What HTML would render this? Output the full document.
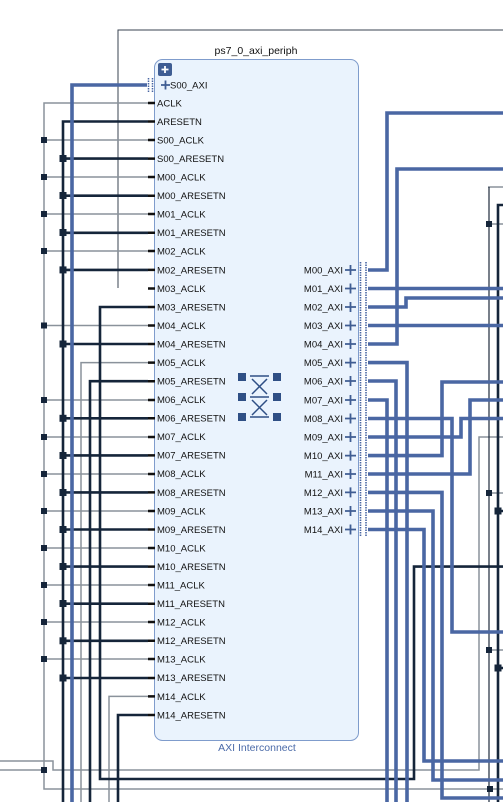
<!DOCTYPE html>
<html><head><meta charset="utf-8"><style>
html,body{margin:0;padding:0;background:#fff;width:503px;height:802px;overflow:hidden}
svg{display:block}
text{font-family:"Liberation Sans",Arial,sans-serif;font-size:9.5px;fill:#111}
.r{text-anchor:end}
</style></head><body>
<svg width="503" height="802" viewBox="0 0 503 802" xmlns="http://www.w3.org/2000/svg">
<g fill="none" stroke-linejoin="miter">
<path d="M503 30 H118 V288" stroke="#3a4350" stroke-width="1"/>
<path d="M148 103 H44 V789 H490" stroke="#8a929b" stroke-width="1.5"/>
<g stroke="#8a929b" stroke-width="1.5">
<path d="M44 140H148M44 177H148M44 214H148M44 251H148M44 325.5H148M44 400H148M44 437H148M44 474H148M44 511H148M44 548H148M44 585H148M44 622H148M44 659H148"/>
<path d="M148 362.6H81V802"/>
<path d="M148 696.4H109V802"/>
<path d="M0 761H53V770H479V437H503"/>
<path d="M0 770H44"/>
<path d="M490 789H503"/>
<path d="M488 187H503M489 224H503M489 493H503M489 650H503"/>
</g>
<path d="M489 187V802" stroke="#1e2b3c" stroke-width="1.2"/>
<g stroke="#15253a" stroke-width="2.6">
<path d="M148 121.5H63V802"/>
<path d="M63 158.6H148M63 195.7H148M63 232.8H148M63 269.9H148M63 344H148M63 418.3H148M63 455.4H148M63 492.4H148M63 529.5H148M63 566.6H148M63 603.7H148M63 640.8H148M63 678H148"/>
<path d="M148 307H100V779H414V566.6H503"/>
<path d="M148 381.2H90V802"/>
<path d="M148 715H118V802"/>
<path d="M503 205H498V802"/>
<path d="M498 511H503M498 668H503"/>
</g>
<g stroke="#4a67a3" stroke-width="3.6">
<path d="M150 85H72V802"/>
<path d="M368 270H387V113H503"/>
<path d="M368 288.5H503"/>
<path d="M368 307H406V298H503"/>
<path d="M368 325.5H503"/>
<path d="M368 344H397V169H503"/>
<path d="M368 362.6H407V802"/>
<path d="M368 381H396V802"/>
<path d="M368 400H387V802"/>
<path d="M368 418.5H452V632H503"/>
<path d="M368 437H461V418.5H503"/>
<path d="M368 455.6H442V382H503"/>
<path d="M368 474H470V400H503"/>
<path d="M368 492.4H442V798H503"/>
<path d="M368 511H433V780H503"/>
<path d="M368 529.5H424V761H503"/>
</g>
</g>
<g fill="#15253a">
<rect x="41" y="137" width="6" height="6"/><rect x="41" y="174" width="6" height="6"/><rect x="41" y="211" width="6" height="6"/><rect x="41" y="248" width="6" height="6"/><rect x="41" y="322.5" width="6" height="6"/><rect x="41" y="397" width="6" height="6"/><rect x="41" y="434" width="6" height="6"/><rect x="41" y="471" width="6" height="6"/><rect x="41" y="508" width="6" height="6"/><rect x="41" y="545" width="6" height="6"/><rect x="41" y="582" width="6" height="6"/><rect x="41" y="619" width="6" height="6"/><rect x="41" y="656" width="6" height="6"/><rect x="41" y="767" width="6" height="6"/>
<rect x="59.5" y="155" width="7" height="7"/><rect x="59.5" y="192" width="7" height="7"/><rect x="59.5" y="229" width="7" height="7"/><rect x="59.5" y="266.4" width="7" height="7"/><rect x="59.5" y="340.5" width="7" height="7"/><rect x="59.5" y="414.8" width="7" height="7"/><rect x="59.5" y="452" width="7" height="7"/><rect x="59.5" y="489" width="7" height="7"/><rect x="59.5" y="526" width="7" height="7"/><rect x="59.5" y="563" width="7" height="7"/><rect x="59.5" y="600" width="7" height="7"/><rect x="59.5" y="637.3" width="7" height="7"/><rect x="59.5" y="674.5" width="7" height="7"/>
<rect x="486" y="221" width="6" height="6"/><rect x="486" y="490" width="6" height="6"/><rect x="486" y="647" width="6" height="6"/><rect x="487" y="786" width="6" height="6"/>
<rect x="494.5" y="507.5" width="7" height="7"/><rect x="494.5" y="664.5" width="7" height="7"/>
</g>
<rect x="154.5" y="59.5" width="204" height="681" rx="8" fill="#eaf3fd" stroke="#7f9ccc" stroke-width="1"/>
<text x="256" y="54" style="text-anchor:middle;font-size:10.5px">ps7_0_axi_periph</text>
<text x="257" y="751" style="text-anchor:middle;font-size:10.5px;fill:#4a6aa8">AXI Interconnect</text>
<rect x="158" y="63" width="14" height="13" rx="2" fill="#3f5d93"/>
<path d="M165 66V73M161.5 69.5H168.5" stroke="#fff" stroke-width="1.8"/>
<path d="M161 85H170M165.5 80.5V89.5" stroke="#3f5d93" stroke-width="1.8"/>
<text x="170" y="88.5">S00_AXI</text>
<rect x="147" y="78" width="7" height="15" fill="#fff"/>
<path d="M148.5 78V93M152.5 78V93" stroke="#4a67a3" stroke-width="1.5" stroke-dasharray="1.5 1"/>
<g stroke="#111" stroke-width="2.5">
<path d="M148 103H155M148 121.5H155M148 140H155M148 158.6H155M148 177H155M148 195.7H155M148 214H155M148 232.8H155M148 251H155M148 269.9H155M148 288.5H155M148 307H155M148 325.5H155M148 344H155M148 362.6H155M148 381.2H155M148 400H155M148 418.3H155M148 437H155M148 455.4H155M148 474H155M148 492.4H155M148 511H155M148 529.5H155M148 548H155M148 566.6H155M148 585H155M148 603.7H155M148 622H155M148 640.8H155M148 659H155M148 678H155M148 696.4H155M148 715H155"/>
</g>
<g>
<text x="157" y="106.5">ACLK</text><text x="157" y="125">ARESETN</text><text x="157" y="143.5">S00_ACLK</text><text x="157" y="162">S00_ARESETN</text>
<text x="157" y="180.5">M00_ACLK</text><text x="157" y="199">M00_ARESETN</text><text x="157" y="217.5">M01_ACLK</text><text x="157" y="236">M01_ARESETN</text>
<text x="157" y="254.5">M02_ACLK</text><text x="157" y="273.5">M02_ARESETN</text><text x="157" y="292">M03_ACLK</text><text x="157" y="310.5">M03_ARESETN</text>
<text x="157" y="329">M04_ACLK</text><text x="157" y="347.5">M04_ARESETN</text><text x="157" y="366">M05_ACLK</text><text x="157" y="384.5">M05_ARESETN</text>
<text x="157" y="403">M06_ACLK</text><text x="157" y="421.5">M06_ARESETN</text><text x="157" y="440">M07_ACLK</text><text x="157" y="458.5">M07_ARESETN</text>
<text x="157" y="477">M08_ACLK</text><text x="157" y="496">M08_ARESETN</text><text x="157" y="514.5">M09_ACLK</text><text x="157" y="533">M09_ARESETN</text>
<text x="157" y="551.5">M10_ACLK</text><text x="157" y="570">M10_ARESETN</text><text x="157" y="588.5">M11_ACLK</text><text x="157" y="607">M11_ARESETN</text>
<text x="157" y="625.5">M12_ACLK</text><text x="157" y="644">M12_ARESETN</text><text x="157" y="662.5">M13_ACLK</text><text x="157" y="681">M13_ARESETN</text>
<text x="157" y="700">M14_ACLK</text><text x="157" y="718.5">M14_ARESETN</text>
</g>
<g>
<text class="r" x="343" y="273.5">M00_AXI</text><text class="r" x="343" y="292">M01_AXI</text><text class="r" x="343" y="310.5">M02_AXI</text><text class="r" x="343" y="329">M03_AXI</text><text class="r" x="343" y="347.5">M04_AXI</text>
<text class="r" x="343" y="366">M05_AXI</text><text class="r" x="343" y="384.5">M06_AXI</text><text class="r" x="343" y="403.5">M07_AXI</text><text class="r" x="343" y="422">M08_AXI</text><text class="r" x="343" y="440.5">M09_AXI</text>
<text class="r" x="343" y="459">M10_AXI</text><text class="r" x="343" y="477.5">M11_AXI</text><text class="r" x="343" y="496">M12_AXI</text><text class="r" x="343" y="514.5">M13_AXI</text><text class="r" x="343" y="533">M14_AXI</text>
</g>
<g stroke="#3f5d93" stroke-width="1.8">
<path d="M345 270H356M350.5 265V275M345 288.5H356M350.5 283.5V293.5M345 307H356M350.5 302V312M345 325.5H356M350.5 320.5V330.5M345 344H356M350.5 339V349M345 362.6H356M350.5 357.6V367.6M345 381H356M350.5 376V386M345 400H356M350.5 395V405M345 418.5H356M350.5 413.5V423.5M345 437H356M350.5 432V442M345 455.6H356M350.5 450.6V460.6M345 474H356M350.5 469V479M345 492.4H356M350.5 487.4V497.4M345 511H356M350.5 506V516M345 529.5H356M350.5 524.5V534.5"/>
</g>
<rect x="359" y="262" width="9" height="275" fill="#fff"/>
<path d="M360.5 262V537M366 262V537" stroke="#4a67a3" stroke-width="1.6" stroke-dasharray="1.5 1"/>
<g fill="#2f4f85">
<rect x="238" y="373" width="8" height="8"/><rect x="273" y="373" width="8" height="8"/>
<rect x="238" y="393" width="8" height="8"/><rect x="273" y="393" width="8" height="8"/>
<rect x="238" y="413" width="8" height="8"/><rect x="273" y="413" width="8" height="8"/>
</g>
<g stroke="#2f4f85" stroke-width="1.5">
<path d="M250 376H269M250 397H269M250 417H269M252 379L267 394M267 379L252 394M252 400L267 415M267 400L252 415"/>
</g>
</svg>
</body></html>
